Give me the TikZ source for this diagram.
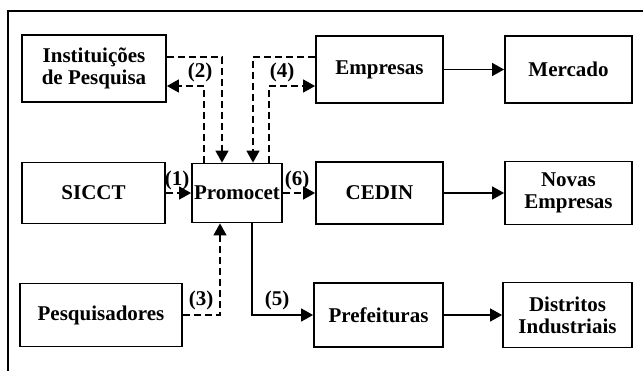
\documentclass[tikz,border=0pt]{standalone}
\usepackage{fontspec}
\setmainfont{Liberation Serif}
\usetikzlibrary{arrows.meta}
\begin{document}
\begin{tikzpicture}[x=1pt,y=-1pt,
  box/.style={draw,line width=1.8pt,inner sep=0pt,align=center,font=\bfseries\fontsize{21}{22}\selectfont},
  link/.style={line width=1.4pt,-{Triangle[length=12pt,width=13pt]}},
  dlink/.style={link,dash pattern=on 7pt off 4pt},
  lab/.style={font=\bfseries\fontsize{21}{22}\selectfont,inner sep=0pt}]
\useasboundingbox (0,0) rectangle (643,370);
\draw[line width=1.6pt] (8,372) -- (8,11) -- (645,11);
% boxes
\node[box,minimum width=144pt,minimum height=67pt] (inst) at (94,68.5) {Instituições\\[0pt]de Pesquisa};
\node[box,minimum width=127pt,minimum height=67pt] (emp) at (379.5,69.5) {Empresas};
\node[box,minimum width=127pt,minimum height=67pt] (merc) at (568.5,69.5) {Mercado};
\node[box,minimum width=143pt,minimum height=61pt] (sicct) at (93.5,193) {SICCT};
\node[box,minimum width=90pt,minimum height=59pt] (prom) at (237,193) {Promocet};
\node[box,minimum width=127pt,minimum height=62pt] (cedin) at (379.5,193) {CEDIN};
\node[box,minimum width=127pt,minimum height=63pt] (novas) at (568.5,193) {Novas\\[0pt]Empresas};
\node[box,minimum width=162pt,minimum height=63pt] (pesq) at (101,315) {Pesquisadores};
\node[box,minimum width=129pt,minimum height=64pt] (pref) at (378.5,315) {Prefeituras};
\node[box,minimum width=129pt,minimum height=65pt] (dist) at (567.5,315) {Distritos\\[0pt]Industriais};
% helper coordinates
\coordinate (yA) at (0,57);
\coordinate (yB) at (0,86);
\coordinate (xA) at (222,0);
\coordinate (xB) at (204,0);
\coordinate (xC) at (253,0);
\coordinate (xD) at (269,0);
\coordinate (xE) at (220,0);
\coordinate (xF) at (252,0);
% connectors
\draw[dlink] (inst.east |- yA) -| (prom.north -| xA);
\draw[dlink] (prom.north -| xB) |- (inst.east |- yB);
\draw[dlink] (emp.west |- yA) -| (prom.north -| xC);
\draw[dlink] (prom.north -| xD) |- (emp.west |- yB);
\draw[dlink] (sicct.east) -- (prom.west);
\draw[dlink] (prom.east) -- (cedin.west);
\draw[dlink] (pesq.east) -| (prom.south -| xE);
\draw[link] (prom.south -| xF) |- (pref.west);
\draw[link] (emp.east) -- (merc.west);
\draw[link] (cedin.east) -- (novas.west);
\draw[link] (pref.east) -- (dist.west);
% labels
\node[lab] (l1) at (177,180) {(1)};
\node[lab] (l6) at (297,180) {(6)};
\node[lab] (l2) at (200,72) {(2)};
\node[lab] (l4) at (282,72) {(4)};
\node[lab] (l3) at (201,300) {(3)};
\node[lab] (l5) at (277,300) {(5)};
\end{tikzpicture}
\end{document}
